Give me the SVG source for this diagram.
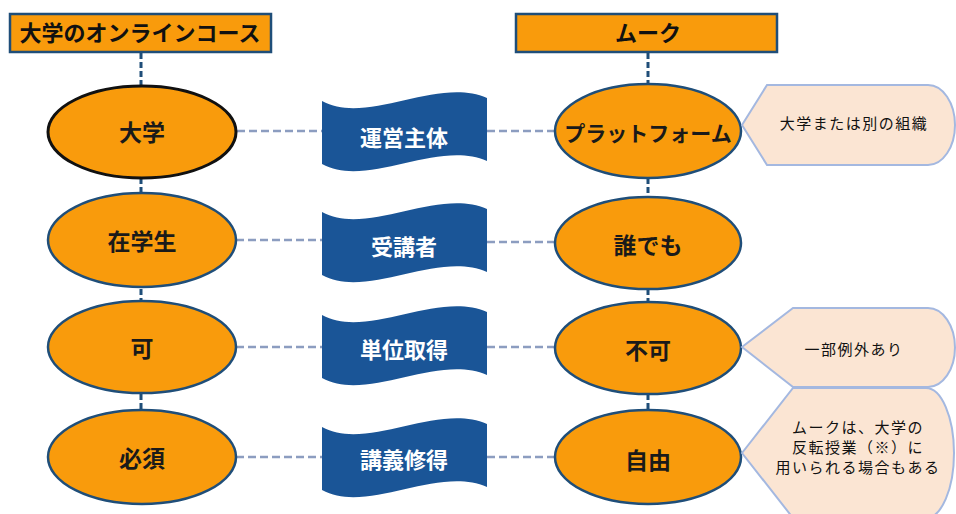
<svg xmlns="http://www.w3.org/2000/svg" width="956" height="514" viewBox="0 0 956 514">
<style>
.title{fill:#F99B0C;stroke:#1F4E79;stroke-width:2.5}
.ttl{font-family:"Noto Sans CJK JP","Noto Sans",sans-serif;font-size:22px;font-weight:700;fill:#111;text-anchor:middle}
.ell{fill:#F99B0C;stroke:#1F4E79;stroke-width:2.5}
.elt{font-family:"Noto Sans CJK JP","Noto Sans",sans-serif;font-size:23px;font-weight:700;fill:#1a1a1a;text-anchor:middle}
.flag{fill:#1A5597}
.flt{font-family:"Noto Sans CJK JP","Noto Sans",sans-serif;font-size:22px;font-weight:700;fill:#fff;text-anchor:middle}
.call{fill:#FBE5D3;stroke:#A4B8E0;stroke-width:2}
.clt{font-family:"Noto Sans CJK JP","Noto Sans",sans-serif;font-size:15px;fill:#111;text-anchor:middle;letter-spacing:1.5px}
.vline{stroke:#1F4E79;stroke-width:3;stroke-dasharray:6,3;fill:none}
.hline{stroke:#8C9DC0;stroke-width:2.5;stroke-dasharray:8,4;fill:none}
</style>
<defs>
<path id="flagshape" d="M0,0 C45,25 115,-25 165,-3 L165,60 C115,38 45,88 0,63 Z"/>
</defs>
<rect width="956" height="514" fill="#fff"/>
<g id="connectors">
<line class="vline" x1="141" y1="53" x2="141" y2="86"/>
<line class="vline" x1="141" y1="178" x2="141" y2="195"/>
<line class="vline" x1="141" y1="289" x2="141" y2="301"/>
<line class="vline" x1="141" y1="394" x2="141" y2="410"/>
<line class="vline" x1="648" y1="53" x2="648" y2="85"/>
<line class="vline" x1="648" y1="178" x2="648" y2="196"/>
<line class="vline" x1="648" y1="289" x2="648" y2="302"/>
<line class="vline" x1="648" y1="394" x2="648" y2="410"/>
<line class="hline" x1="237" y1="131" x2="322" y2="131"/>
<line class="hline" x1="487" y1="131" x2="556" y2="131"/>
<line class="hline" x1="236" y1="240" x2="322" y2="240"/>
<line class="hline" x1="487" y1="242" x2="556" y2="242"/>
<line class="hline" x1="236" y1="347" x2="322" y2="347"/>
<line class="hline" x1="487" y1="347" x2="556" y2="347"/>
<line class="hline" x1="236" y1="457" x2="322" y2="457"/>
<line class="hline" x1="487" y1="457" x2="556" y2="457"/>
</g>
<g id="title-left">
<rect class="title" x="10" y="14" width="261" height="38"/>
<text class="ttl" x="140" y="41">大学のオンラインコース</text>
</g>
<g id="title-right">
<rect class="title" x="516" y="14" width="261" height="38"/>
<text class="ttl" x="648" y="41">ムーク</text>
</g>
<g id="n-daigaku">
<ellipse class="ell" cx="142" cy="132" rx="94" ry="46" style="stroke:#111;stroke-width:3"/>
<text class="elt" x="142" y="141">大学</text>
</g>
<g id="n-zaigakusei">
<ellipse class="ell" cx="142" cy="240" rx="94" ry="47"/>
<text class="elt" x="142" y="250">在学生</text>
</g>
<g id="n-ka">
<ellipse class="ell" cx="142" cy="347" rx="94" ry="46"/>
<text class="elt" x="142" y="357">可</text>
</g>
<g id="n-hissu">
<ellipse class="ell" cx="142" cy="457" rx="94" ry="47"/>
<text class="elt" x="142" y="467">必須</text>
</g>
<g id="f-unei">
<use href="#flagshape" class="flag" transform="translate(322,101)"/>
<text class="flt" x="404" y="146">運営主体</text>
</g>
<g id="f-jukousha">
<use href="#flagshape" class="flag" transform="translate(322,212)"/>
<text class="flt" x="404" y="255">受講者</text>
</g>
<g id="f-tani">
<use href="#flagshape" class="flag" transform="translate(322,315)"/>
<text class="flt" x="404" y="358">単位取得</text>
</g>
<g id="f-kougi">
<use href="#flagshape" class="flag" transform="translate(322,427)"/>
<text class="flt" x="404" y="468">講義修得</text>
</g>
<g id="n-platform">
<ellipse class="ell" cx="648" cy="131" rx="93" ry="47"/>
<text class="elt" x="648" y="141" style="font-size:21px">プラットフォーム</text>
</g>
<g id="n-daredemo">
<ellipse class="ell" cx="648" cy="243" rx="93" ry="46"/>
<text class="elt" x="648" y="254">誰でも</text>
</g>
<g id="n-fuka">
<ellipse class="ell" cx="648" cy="348" rx="93" ry="46"/>
<text class="elt" x="648" y="359">不可</text>
</g>
<g id="n-jiyuu">
<ellipse class="ell" cx="648" cy="457" rx="93" ry="47"/>
<text class="elt" x="648" y="469">自由</text>
</g>
<g id="c-soshiki">
<path class="call" d="M742,125 L767,85 L928,85 A27,40 0 0 1 928,165 L767,165 Z"/>
<text class="clt" x="854" y="129">大学または別の組織</text>
</g>
<g id="c-reigai">
<path class="call" d="M742,347 L793,308 L928,308 A27,39.5 0 0 1 928,387 L793,387 Z"/>
<text class="clt" x="854" y="355">一部例外あり</text>
</g>
<g id="c-hanten">
<path class="call" d="M742,453 L793,388 L926,388 A28,65 0 0 1 926,518 L793,518 Z"/>
<text class="clt" x="858" y="433">ムークは、大学の</text>
<text class="clt" x="858" y="453">反転授業（※）に</text>
<text class="clt" x="858" y="473">用いられる場合もある</text>
</g>
</svg>
